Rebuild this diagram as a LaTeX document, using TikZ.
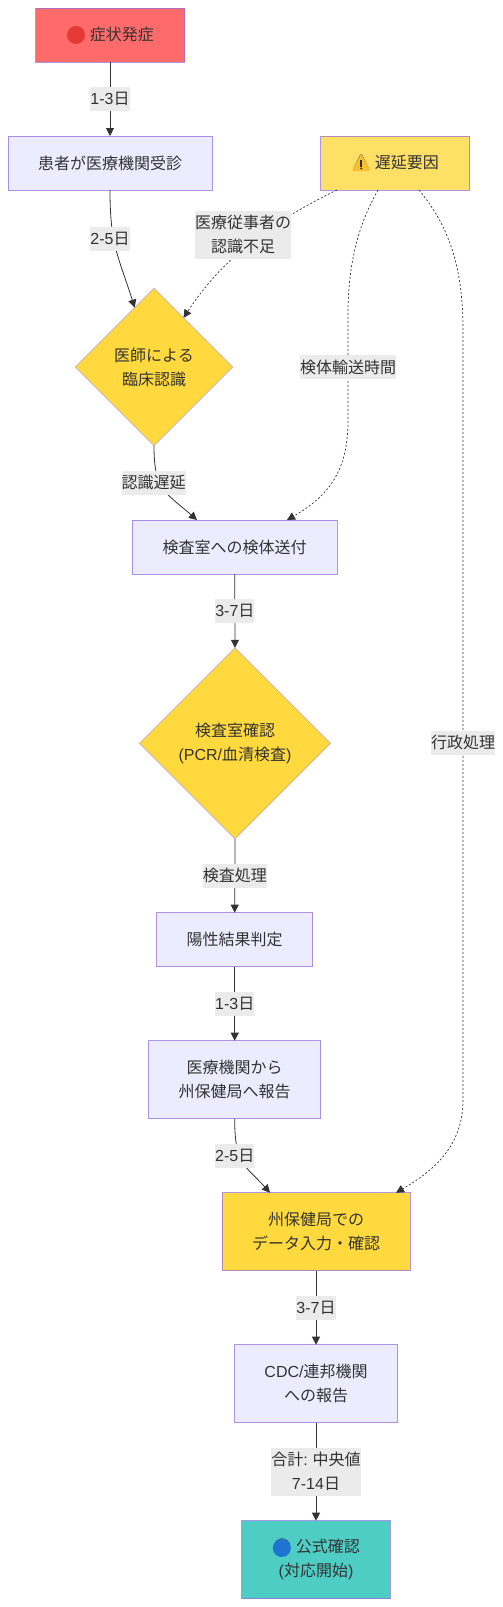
\documentclass[tikz,border=0pt]{standalone}
\usepackage{fontspec}
\setmainfont{Noto Sans CJK JP}
\newfontfamily\latfont{Liberation Sans}
\newfontfamily\emojifont{Noto Emoji}
\newcommand{\lat}[1]{{\latfont #1}}
\usetikzlibrary{arrows.meta,shapes.geometric}
\definecolor{Ink}{HTML}{333333}
\definecolor{Edge}{HTML}{9370DB}
\definecolor{Plain}{HTML}{ECECFF}
\definecolor{Onset}{HTML}{FF6B6B}
\definecolor{Delay}{HTML}{FFE066}
\definecolor{Key}{HTML}{FFD93D}
\definecolor{Done}{HTML}{4ECDC4}
\definecolor{Tag}{HTML}{EBEBEB}
\definecolor{RedDot}{HTML}{E53935}
\definecolor{BlueDot}{HTML}{1E74D2}
\definecolor{Warn}{HTML}{FBC02D}
\tikzset{
  every node/.style={text=Ink, font=\fontsize{16}{24}\selectfont, align=center, inner sep=0pt, outer sep=0pt},
  stagebox/.style={draw=Edge, draw opacity=0.75, line width=1pt, fill=Plain, minimum width=#1},
  stagebox/.default=150,
  onerow/.style={minimum height=54},
  tworow/.style={minimum height=78},
  gate/.style={diamond, draw=Edge, draw opacity=0.6, line width=0.6pt, fill=Key, aspect=1, minimum width=#1, minimum height=#1},
  tag/.style={fill=Tag, minimum height=24},
  tagtwo/.style={fill=Tag, minimum height=48},
  flow/.style={->, draw=Ink, line width=0.8pt},
  lagflow/.style={->, draw=Ink, line width=0.7pt, dash pattern=on 2pt off 2pt}
}
\begin{document}
\begin{tikzpicture}[>={Triangle[length=8pt,width=8pt]}, x=1pt, y=-1pt]
\useasboundingbox (0,0) rectangle (503,1607);
\node[stagebox=149, onerow, fill=Onset] (onset) at (110,35) {{\emojifont 🔴} 症状発症};
\node[stagebox=204, onerow] (visit) at (110,163) {患者が医療機関受診};
\node[stagebox=149, onerow, fill=Delay] (delay) at (395,163) {{\emojifont ⚠} 遅延要因};
\node[gate=157.4] (clinic) at (154,367) {医師による\\臨床認識};
\node[stagebox=204.7, onerow] (sample) at (234.7,547) {検査室への検体送付};
\node[gate=191] (labcheck) at (235,743.3) {検査室確認\\\lat{(PCR/}血清検査\lat{)}};
\node[stagebox=156, onerow] (positive) at (234.7,939.7) {陽性結果判定};
\node[stagebox=172, tworow] (report) at (234.7,1079.7) {医療機関から\\州保健局へ報告};
\node[stagebox=188, tworow, fill=Key] (entry) at (316,1231.7) {州保健局での\\データ入力・確認};
\node[stagebox=163, tworow] (federal) at (316,1383.7) {\lat{CDC/}連邦機関\\への報告};
\node[stagebox=148.6, tworow, fill=Done] (official) at (316,1559.7) {{\emojifont 🔵} 公式確認\\\lat{(}対応開始\lat{)}};

\fill[RedDot] (76,35) circle (9);
\fill[BlueDot] (281.8,1548) circle (9);
\fill[Warn, rounded corners=1pt] (361.2,154) -- (370.5,171) -- (352,171) -- cycle;
\fill[black!80] (360.2,160) rectangle (362.2,166.5);
\fill[black!80] (361.2,168.5) circle (1.1);

\draw[flow] (onset.south) -- (visit.north) node[midway, tag] (days1) {\lat{1-3}日};
\draw[flow] (visit.south) .. controls (110,245) and (118,255) .. (clinic.108);
\draw[flow] (clinic.south) .. controls (154,490) and (165,492) .. ([xshift=-37.7pt]sample.north);
\draw[flow] (sample.south) -- (labcheck.north) node[midway, tag] (days3) {\lat{3-7}日};
\draw[flow] (labcheck.south) -- (positive.north) node[midway, tag] (labtime) {検査処理};
\draw[flow] (positive.south) -- (report.north) node[midway, tag] (days4) {\lat{1-3}日};
\draw[flow] (report.south) .. controls (234.7,1165) and (245,1165) .. ([xshift=-46pt]entry.north);
\draw[flow] (entry.south) -- (federal.north) node[midway, tag] (days6) {\lat{3-7}日};
\draw[flow] (federal.south) -- (official.north) node[midway, tagtwo] (total) {合計\lat{:} 中央値\\\lat{7-14}日};

\draw[lagflow] ([xshift=-58pt]delay.south) .. controls (265,225) and (220,262) .. (clinic.59);
\draw[lagflow] ([xshift=-17pt]delay.south) .. controls (358,225) and (348,265) .. (348,314) -- (348,420) node[midway, tag] (transit) {検体輸送時間} .. controls (348,470) and (330,495) .. ([xshift=52.3pt]sample.north);
\draw[lagflow] ([xshift=24pt]delay.south) .. controls (448,225) and (463,265) .. (463,330) -- (463,1100) node[pos=0.536, tag] (admin) {行政処理} .. controls (463,1145) and (435,1170) .. ([xshift=80pt]entry.north);

\node[tag] (days2) at (110,238.5) {\lat{2-5}日};
\node[tagtwo] (unaware) at (243,234.5) {医療従事者の\\認識不足};
\node[tag] (lag) at (153.7,482.7) {認識遅延};
\node[tag] (days5) at (234.7,1155.7) {\lat{2-5}日};
\end{tikzpicture}
\end{document}
